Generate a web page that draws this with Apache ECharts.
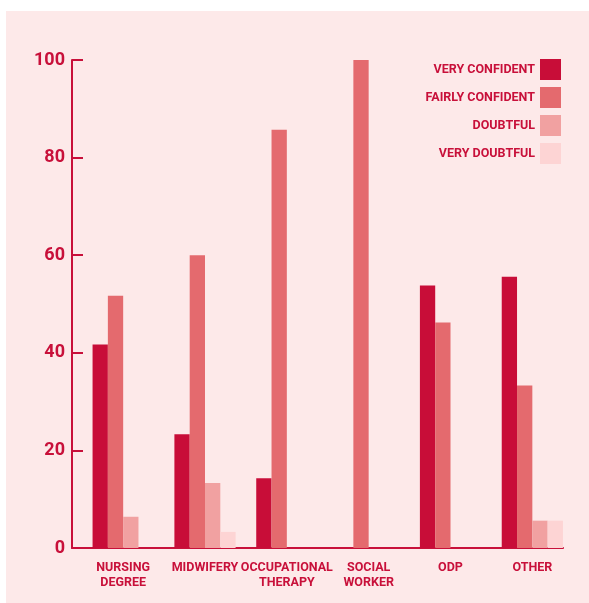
<!DOCTYPE html>
<html>
<head>
<meta charset="utf-8">
<script src="https://cdn.jsdelivr.net/npm/echarts@6/dist/echarts.min.js"></script>
<style>
  html, body { margin: 0; padding: 0; background: #ffffff; }
  #chart { position: absolute; left: 6px; top: 11px; width: 583px; height: 592px; }
</style>
</head>
<body>
<div id="chart"></div>
<script>
// Course categories along the x axis
const categories = ['NURSING\nDEGREE', 'MIDWIFERY', 'OCCUPATIONAL\nTHERAPY', 'SOCIAL\nWORKER', 'ODP', 'OTHER'];

// Percentage of respondents per confidence level
const veryConfident   = [41.7, 23.3, 14.3, 0,   53.8, 55.6];
const fairlyConfident = [51.7, 60.0, 85.7, 100, 46.2, 33.3];
const doubtful        = [6.4,  13.3, 0,    0,   0,    5.6];
const veryDoubtful    = [0,    3.3,  0,    0,   0,    5.6];

const yTicks = [0, 20, 40, 60, 80, 100];

const ink = '#C8103A';
const font = "Roboto, 'Liberation Sans Narrow', sans-serif";

const levels = [
  { name: 'VERY CONFIDENT',   data: veryConfident,   color: '#C80D38' },
  { name: 'FAIRLY CONFIDENT', data: fairlyConfident, color: '#E46A6E' },
  { name: 'DOUBTFUL',         data: doubtful,        color: '#F1A1A1' },
  { name: 'VERY DOUBTFUL',    data: veryDoubtful,    color: '#FDD4D4' }
];

const BAR_W = 15.3;
const LEAD_W = 20.5;

const chart = echarts.init(document.getElementById('chart'), null, { renderer: 'canvas' });

chart.setOption({
  backgroundColor: '#FDE9E9',
  animation: false,
  grid: { left: 66, right: 26, top: 49, bottom: 55, containLabel: false },
  legend: {
    orient: 'vertical',
    right: 23,
    top: 43,
    align: 'right',
    itemWidth: 21,
    itemHeight: 21,
    itemGap: 7,
    icon: 'rect',
    data: levels.map(l => l.name),
    selectedMode: false,
    textStyle: {
      color: ink,
      fontFamily: font,
      fontWeight: 'bold',
      fontSize: 12.5,
      lineHeight: 13,
      padding: [8, 0, 0, 0]
    }
  },
  xAxis: {
    type: 'category',
    data: categories,
    axisLine: { show: true, lineStyle: { color: ink, width: 2 } },
    axisTick: { show: false },
    axisLabel: {
      color: ink,
      fontFamily: font,
      fontWeight: 'bold',
      fontSize: 12.5,
      lineHeight: 15,
      margin: 12,
      interval: 0,
      padding: [0, 0, 0, LEAD_W]
    },
    splitLine: { show: false }
  },
  yAxis: {
    type: 'value',
    min: yTicks[0],
    max: yTicks[yTicks.length - 1],
    interval: 20,
    axisLine: { show: true, lineStyle: { color: ink, width: 2 } },
    axisTick: { show: true, inside: true, length: 11, lineStyle: { color: ink, width: 2 } },
    axisLabel: {
      color: ink,
      fontFamily: font,
      fontWeight: 'bold',
      fontSize: 18,
      margin: 7
    },
    splitLine: { show: false }
  },
  series: [
    // invisible slot that leaves the gap before each group of bars
    {
      name: 'gap', type: 'bar', data: categories.map(() => 0),
      barWidth: LEAD_W, barGap: '0%', barCategoryGap: '0%', silent: true,
      itemStyle: { color: 'rgba(0,0,0,0)' }
    }
  ].concat(levels.map(l => ({
    name: l.name,
    type: 'bar',
    data: l.data,
    barWidth: BAR_W,
    barGap: '0%',
    barCategoryGap: '0%',
    itemStyle: { color: l.color },
    silent: true
  })))
});
</script>
</body>
</html>
